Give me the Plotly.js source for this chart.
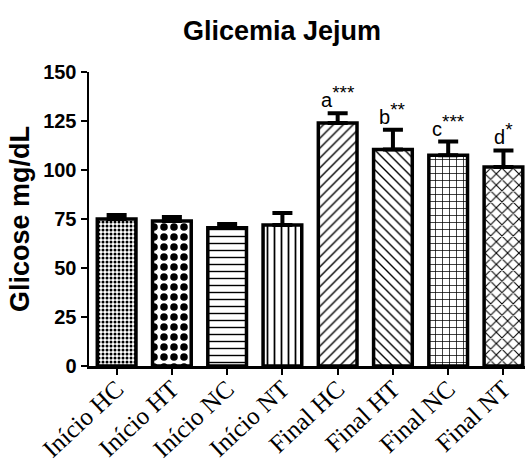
<!DOCTYPE html>
<html>
<head>
<meta charset="utf-8">
<script src="https://cdn.plot.ly/plotly-3.0.1.min.js"></script>
<style>html,body{margin:0;padding:0;background:#fff;}</style>
</head>
<body>
<div id="chart" style="width:527px;height:470px;"></div>
<script>
const categories = ["Início HC", "Início HT", "Início NC", "Início NT", "Final HC", "Final HT", "Final NC", "Final NT"];
const glucose = [75, 74, 70.5, 72, 124, 110.5, 107.5, 101.5];
const sem = [2, 2, 2, 6, 5, 10, 7, 8.5];
const sigLetters = ["", "", "", "", "a", "b", "c", "d"];
const sigStars = ["", "", "", "", "***", "**", "***", "*"];
const yTicks = [0, 25, 50, 75, 100, 125, 150];

const shapes = [".", ".", "-", "|", "/", "\\", "+", "x"];
const psize = [4, 10, 7, 7, 7, 7, 7, 8];
const psol = [0.45, 0.45, 0.2, 0.25, 0.2, 0.2, 0.2, 0.25];

const xIdx = categories.map((c, i) => i);

const trace = {
  type: "bar",
  x: xIdx,
  y: glucose,
  width: 0.7,
  marker: {
    color: "#ffffff",
    line: {color: "#000", width: 3.5},
    pattern: {shape: shapes, size: psize, solidity: psol, fgcolor: "#000", bgcolor: "#fff", fillmode: "replace"}
  },
  error_y: {type: "data", array: sem, arrayminus: sem.map(() => 0), symmetric: false, color: "#000", thickness: 4, width: 10},
  hoverinfo: "none"
};

const annotations = [];
sigLetters.forEach((t, i) => {
  if (!t) return;
  annotations.push({
    x: i, y: glucose[i] + sem[i], xref: "x", yref: "y",
    text: t + "<sup><span style='font-size:19px'>" + sigStars[i] + "</span></sup>",
    showarrow: false, yanchor: "bottom", yshift: 0,
    font: {family: "Liberation Sans, Arial, sans-serif", size: 20, color: "#000"}
  });
});

const layout = {
  width: 527, height: 470,
  margin: {l: 89, r: 2, t: 72, b: 104},
  paper_bgcolor: "#fff", plot_bgcolor: "#fff",
  showlegend: false,
  title: {text: "<b>Glicemia Jejum</b>", x: 0.535, xanchor: "center", y: 0.935, yanchor: "middle",
          font: {family: "Liberation Sans, Arial, sans-serif", size: 27, color: "#000"}},
  xaxis: {
    range: [-0.5, 7.39], tickvals: xIdx, ticktext: categories, tickangle: -43,
    showline: true, linecolor: "#000", linewidth: 2.5, ticks: "outside", ticklen: 6, tickwidth: 2, tickcolor: "#000",
    ticklabelstandoff: -10,
    showgrid: false, zeroline: false,
    tickfont: {family: "Liberation Serif, Times New Roman, serif", size: 25, color: "#000"}
  },
  yaxis: {
    range: [0, 150], tickvals: yTicks,
    showline: true, linecolor: "#000", linewidth: 2.5, ticks: "outside", ticklen: 6, tickwidth: 2, tickcolor: "#000",
    showgrid: false, zeroline: false,
    tickfont: {family: "Liberation Sans, Arial, sans-serif", size: 20, color: "#000", weight: "bold"},
    title: {text: "<b>Glicose mg/dL</b>", standoff: 6, font: {family: "Liberation Sans, Arial, sans-serif", size: 27, color: "#000"}}
  },
  annotations: annotations
};

Plotly.newPlot("chart", [trace], layout, {staticPlot: true, displayModeBar: false});
</script>
</body>
</html>
